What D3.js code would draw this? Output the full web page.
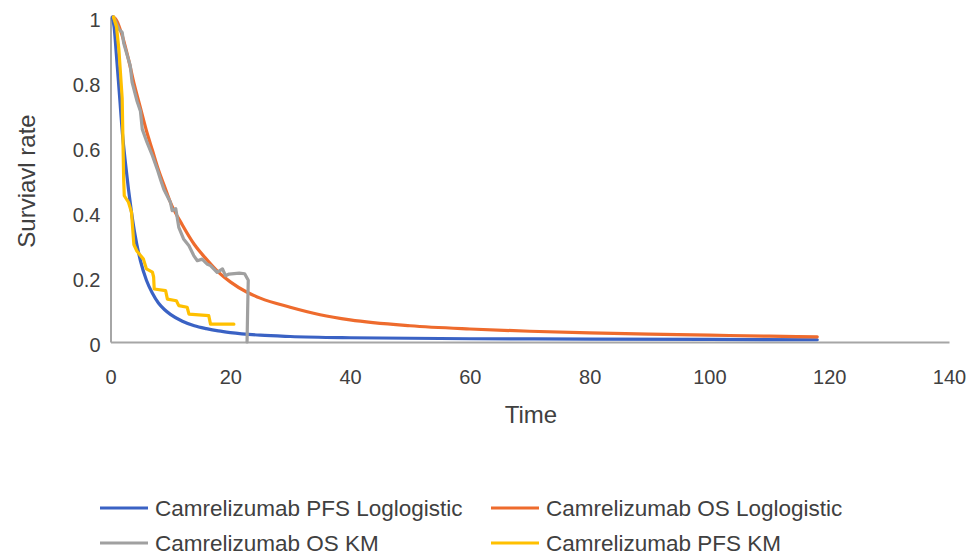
<!DOCTYPE html>
<html>
<head>
<meta charset="utf-8">
<script src="https://cdn.jsdelivr.net/npm/d3@7"></script>
<style>
  body { margin: 0; background: #fff; }
  text { font-family: "Liberation Sans", Arial, sans-serif; fill: #404040; }
</style>
</head>
<body>
<div id="chart"></div>
<script>
// Camrelizumab PFS Loglogistic
const timePfsFit = [0.3, 0.6, 1, 1.5, 2, 2.5, 3, 3.5, 4, 5, 6, 7, 8, 9, 10, 12, 14, 16, 18, 20, 25, 30, 40, 60, 80, 100, 118];
const survPfsFit = [1, 0.97, 0.88, 0.76, 0.64, 0.55, 0.47, 0.40, 0.34, 0.25, 0.19, 0.15, 0.12, 0.10, 0.085, 0.064, 0.05, 0.041, 0.034, 0.029, 0.021, 0.017, 0.013, 0.01, 0.009, 0.008, 0.007];

// Camrelizumab OS Loglogistic
const timeOsFit = [0.5, 1, 2, 3, 4, 5, 6, 7, 8, 9, 10, 12, 14, 16, 18, 20, 22.8, 25, 30, 35, 40, 50, 60, 70, 80, 90, 100, 110, 118];
const survOsFit = [1, 0.99, 0.94, 0.87, 0.79, 0.72, 0.65, 0.59, 0.53, 0.48, 0.43, 0.36, 0.30, 0.255, 0.215, 0.185, 0.153, 0.135, 0.107, 0.084, 0.068, 0.05, 0.04, 0.033, 0.028, 0.024, 0.021, 0.018, 0.016];

// Camrelizumab OS KM
const timeOsKm = [0.5, 1.4, 1.95, 2.2, 3.3, 3.6, 4.45, 5.0, 5.3, 6.1, 7.0, 7.8, 8.35, 8.9, 10.0, 10.3, 10.9, 11.4, 12.2, 13.1, 13.9, 14.5, 15.3, 16.1, 16.7, 17.8, 18.7, 19.2, 19.8, 21.5, 22.4, 23.0, 22.9, 22.8];
const survOsKm = [1, 0.963, 0.953, 0.92, 0.85, 0.80, 0.74, 0.71, 0.655, 0.614, 0.573, 0.532, 0.50, 0.47, 0.43, 0.404, 0.41, 0.353, 0.317, 0.296, 0.266, 0.25, 0.255, 0.24, 0.235, 0.214, 0.225, 0.204, 0.209, 0.212, 0.21, 0.19, 0.1, 0];

// Camrelizumab PFS KM
const timePfsKm = [0.5, 1.0, 1.4, 1.95, 2.2, 2.3, 3.0, 3.5, 3.9, 4.4, 5.5, 6.0, 7.0, 7.2, 7.3, 9.2, 9.5, 11.0, 11.4, 12.8, 13.1, 16.4, 16.7, 20.6];
const survPfsKm = [1, 0.97, 0.9, 0.75, 0.5, 0.45, 0.43, 0.40, 0.30, 0.28, 0.255, 0.225, 0.215, 0.2, 0.163, 0.158, 0.132, 0.127, 0.112, 0.107, 0.086, 0.081, 0.055, 0.055];

const xTicks = [0, 20, 40, 60, 80, 100, 120, 140];
const yTicks = [0, 0.2, 0.4, 0.6, 0.8, 1];

const series = [
  { name: "Camrelizumab PFS Loglogistic", t: timePfsFit, s: survPfsFit, color: "#3a62c4", smooth: true },
  { name: "Camrelizumab OS Loglogistic", t: timeOsFit, s: survOsFit, color: "#ee6b2d", smooth: true },
  { name: "Camrelizumab OS KM", t: timeOsKm, s: survOsKm, color: "#a0a0a0", smooth: false },
  { name: "Camrelizumab PFS KM", t: timePfsKm, s: survPfsKm, color: "#ffc000", smooth: false }
];

const width = 969, height = 557;
const margin = { top: 17, right: 20, bottom: 215, left: 110.5 };

const svg = d3.select("#chart")
  .append("svg")
  .attr("width", width)
  .attr("height", height);

const xScale = d3.scaleLinear().domain([0, 140]).range([margin.left, 949]);
const yScale = d3.scaleLinear().domain([0, 1]).range([342, margin.top]);

// axes
const xAxis = svg.append("g")
  .attr("transform", `translate(0,${yScale(0)})`)
  .call(d3.axisBottom(xScale).tickValues(xTicks).tickSize(0).tickPadding(28));
const yAxis = svg.append("g")
  .attr("transform", `translate(${margin.left},0)`)
  .call(d3.axisLeft(yScale).tickValues(yTicks).tickSize(0).tickPadding(10).tickFormat(d3.format("")));

[xAxis, yAxis].forEach(g => {
  g.select(".domain").attr("stroke", "#a6a6a6").attr("stroke-width", 2);
  g.selectAll("text").style("font-size", "20px").attr("fill", "#404040");
});
yAxis.selectAll("text").attr("dy", "0.45em");

// titles
svg.append("text")
  .attr("x", 531).attr("y", 423)
  .attr("text-anchor", "middle")
  .style("font-size", "24px")
  .text("Time");

svg.append("text")
  .attr("transform", `translate(35,181) rotate(-90)`)
  .attr("text-anchor", "middle")
  .style("font-size", "24px")
  .text("Surviavl rate");

// lines
series.forEach(d => {
  const pts = d.t.map((t, i) => [t, d.s[i]]);
  const line = d3.line()
    .x(p => xScale(p[0]))
    .y(p => yScale(p[1]))
    .curve(d.smooth ? d3.curveMonotoneX : d3.curveLinear);
  svg.append("path")
    .datum(pts)
    .attr("fill", "none")
    .attr("stroke", d.color)
    .attr("stroke-width", 3.2)
    .attr("stroke-linejoin", "round")
    .attr("stroke-linecap", "round")
    .attr("d", line);
});

// legend
const legendPos = [[100, 508], [491, 508], [100, 543], [491, 543]];
series.forEach((d, i) => {
  const [lx, ly] = legendPos[i];
  const g = svg.append("g").attr("transform", `translate(${lx},${ly})`);
  g.append("line")
    .attr("x1", 0).attr("x2", 48)
    .attr("stroke", d.color)
    .attr("stroke-width", 3.2);
  g.append("text")
    .attr("x", 55).attr("dy", "0.35em")
    .style("font-size", "22.5px")
    .text(d.name);
});
</script>
</body>
</html>
